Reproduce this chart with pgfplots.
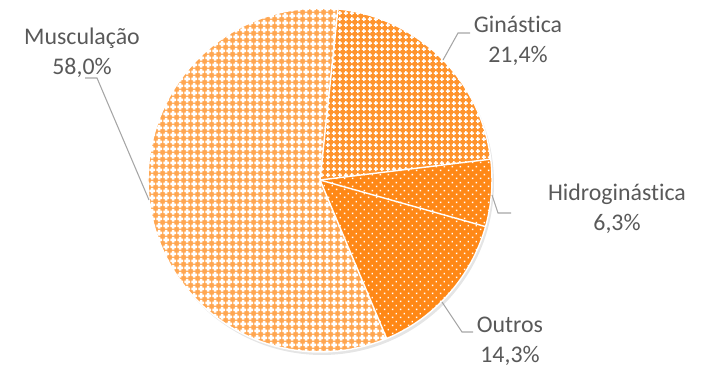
\documentclass[border=0pt]{standalone}
\usepackage{pgfplots}
\pgfplotsset{compat=1.18}
\usepackage{pgfplotstable}
\usepackage{fontspec}
\setmainfont{Carlito}[Ligatures=NoCommon]
\usetikzlibrary{patterns}

\definecolor{laranja}{RGB}{255,136,22}
\definecolor{texto}{RGB}{89,89,89}
\definecolor{guia}{RGB}{166,166,166}

% white crosses, large (light look) and small (dense look)
\pgfdeclarepatternformonly{cruzgrande}{\pgfpointorigin}{\pgfqpoint{4pt}{4pt}}{\pgfqpoint{4pt}{4pt}}{
  \pgfpathrectangle{\pgfqpoint{1.2pt}{0.2pt}}{\pgfqpoint{1.6pt}{3.6pt}}
  \pgfpathrectangle{\pgfqpoint{0.2pt}{1.2pt}}{\pgfqpoint{3.6pt}{1.6pt}}
  \pgfusepath{fill}}
\pgfdeclarepatternformonly{cruzpequena}{\pgfpointorigin}{\pgfqpoint{3.6pt}{3.6pt}}{\pgfqpoint{3.6pt}{3.6pt}}{
  \pgfpathrectangle{\pgfqpoint{1.35pt}{0.6pt}}{\pgfqpoint{0.9pt}{2.4pt}}
  \pgfpathrectangle{\pgfqpoint{0.6pt}{1.35pt}}{\pgfqpoint{2.4pt}{0.9pt}}
  \pgfusepath{fill}}
\pgfdeclarepatternformonly{pontos}{\pgfpointorigin}{\pgfqpoint{4.6pt}{4.6pt}}{\pgfqpoint{4.6pt}{4.6pt}}{
  \pgfpathrectangle{\pgfqpoint{0.5pt}{0.5pt}}{\pgfqpoint{0.9pt}{0.9pt}}
  \pgfpathrectangle{\pgfqpoint{2.8pt}{2.8pt}}{\pgfqpoint{0.9pt}{0.9pt}}
  \pgfusepath{fill}}

% percentages of each slice, clockwise from the top
\pgfplotstableread{
nome pct
Ginastica 21.4
Hidroginastica 6.3
Outros 14.3
Musculacao 58.0
}\fatias

\pgfplotstablegetelem{0}{pct}\of\fatias \let\pA\pgfplotsretval
\pgfplotstablegetelem{1}{pct}\of\fatias \let\pB\pgfplotsretval
\pgfplotstablegetelem{2}{pct}\of\fatias \let\pC\pgfplotsretval
\pgfplotstablegetelem{3}{pct}\of\fatias \let\pD\pgfplotsretval

\pgfmathsetmacro{\aA}{84}
\pgfmathsetmacro{\aB}{\aA-3.6*\pA}
\pgfmathsetmacro{\aC}{\aB-3.6*\pB}
\pgfmathsetmacro{\aD}{\aC-3.6*\pC}
\pgfmathsetmacro{\aE}{\aD-3.6*\pD}

\def\R{3.396cm}
\def\fatia#1#2{(axis cs:320,-180) -- ++(#1:\R) arc[start angle=#1, end angle=#2, radius=\R] -- cycle}

\tikzset{rotulo/.style={text=texto, align=center, inner sep=0pt,
    font=\fontsize{13.4}{16.7}\selectfont}}

\begin{document}
\begin{tikzpicture}
\begin{axis}[
  scale only axis, width=14cm, height=7.227cm,
  xmin=0, xmax=709, ymin=-366, ymax=0,
  hide axis, clip=false,
]
\path (axis cs:0,0) rectangle (axis cs:709,-366);
% shadow
\fill[black!10] (axis cs:322,-183) circle[radius=\R];

% slices
\fill[laranja!90!white] \fatia{\aA}{\aB};
\path[pattern=cruzpequena, pattern color=white] \fatia{\aA}{\aB};
\fill[laranja] \fatia{\aB}{\aC};
\path[pattern=pontos, pattern color=white] \fatia{\aB}{\aC};
\fill[laranja] \fatia{\aC}{\aD};
\path[pattern=pontos, pattern color=white] \fatia{\aC}{\aD};
\fill[laranja!75!white] \fatia{\aD}{\aE};
\path[pattern=cruzgrande, pattern color=white] \fatia{\aD}{\aE};

\draw[white, line width=0.8pt] (axis cs:320,-180) -- ++(\aA:\R);
\draw[white, line width=0.8pt] (axis cs:320,-180) -- ++(\aB:\R);
\draw[white, line width=0.8pt] (axis cs:320,-180) -- ++(\aC:\R);
\draw[white, line width=0.8pt] (axis cs:320,-180) -- ++(\aD:\R);
\draw[white, line width=0.8pt] (axis cs:320,-180) circle[radius=\R];

% leader lines
\draw[guia, line width=0.6pt] (axis cs:149,-200) -- (axis cs:97,-78) -- (axis cs:85,-78);
\draw[guia, line width=0.6pt] (axis cs:443,-60) -- (axis cs:458,-33) -- (axis cs:470,-33);
\draw[guia, line width=0.6pt] (axis cs:492,-195) -- (axis cs:498,-213) -- (axis cs:511,-213);
\draw[guia, line width=0.6pt] (axis cs:442,-302) -- (axis cs:462,-332) -- (axis cs:473,-332);

% labels
\node[rotulo] at (axis cs:82,-53) {Musculação\\58,0\%};
\node[rotulo] at (axis cs:518,-41) {Ginástica\\21,4\%};
\node[rotulo] at (axis cs:617,-209) {Hidroginástica\\6,3\%};
\node[rotulo] at (axis cs:510,-341) {Outros\\14,3\%};
\end{axis}
\end{tikzpicture}
\end{document}
